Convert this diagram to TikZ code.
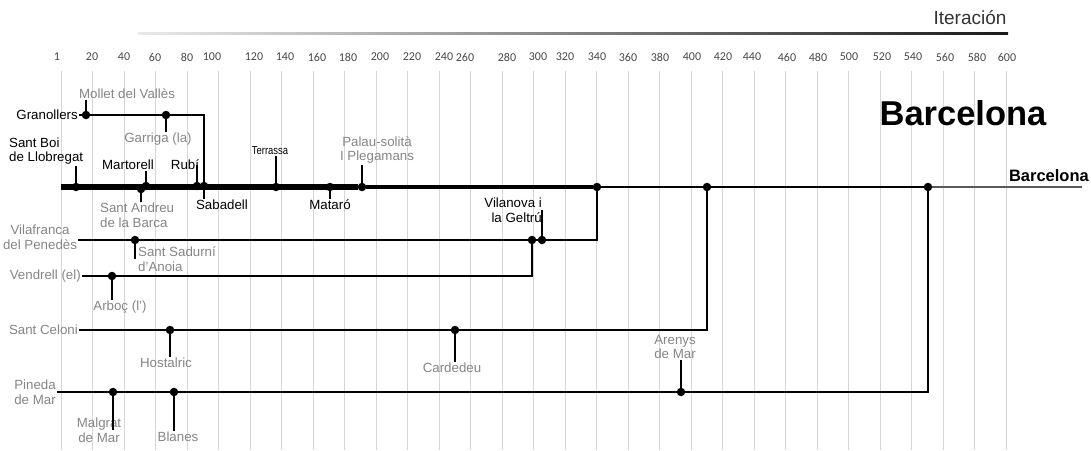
\documentclass[tikz,border=0pt]{standalone}
\usepackage{fontspec}
\setmainfont{Liberation Sans}
\newfontfamily\narrowfont[FakeStretch=0.82]{Liberation Sans}
\newfontfamily\axisfont{Carlito}
\usetikzlibrary{calc}

\begin{document}
\begin{tikzpicture}[x=1pt, y=-1pt,
        city/.style={font=\fontsize{13.3}{14.8}\selectfont, inner sep=1pt, align=center},
        minor/.style={city, text=black!48},
        stop/.style={circle, fill=black, inner sep=0pt, minimum size=8.5pt},
        branch/.style={line width=1.7pt},
        tick/.style={line width=1.5pt},
        gridline/.style={black!16, line width=0.8pt},
        axislabel/.style={font=\axisfont\fontsize{12}{14}\selectfont, text=black!72, inner sep=0pt}
    ]
        \useasboundingbox (0,0) rectangle (1091,450);

        \foreach \i in {0,...,30}
            \draw[gridline] ({61+31.5*\i},71) -- ({61+31.5*\i},450);
        \foreach \v/\x in {1/57, 20/92, 40/124, 60/155, 80/187, 100/212, 120/254, 140/285,
                           160/317, 180/348, 200/380, 220/412, 240/444, 260/465, 280/507,
                           300/538, 320/565, 340/597, 360/628, 380/660, 400/692, 420/723,
                           440/752, 460/787, 480/818, 500/849, 520/882, 540/913, 560/945,
                           580/977, 600/1007}
            \node[axislabel] (ax\v) at (\x,57) {\v};

        \shade[left color=black!8, right color=black!90] (138,32) rectangle (1008,34.2);
        \node[font=\fontsize{19}{22}\selectfont, text=black!80, inner sep=0pt] (iteracion) at (970,18) {Iteración};
        \node[font=\bfseries\fontsize{34.5}{40}\selectfont, inner sep=0pt] (title) at (963,113) {Barcelona};

        % trunk
        \coordinate (trunkstart) at (61,187);
        \coordinate (trunkend) at (1082,187);
        \node[stop] (santboi) at (76,187) {};
        \node[stop] (santandreu) at (141,189) {};
        \node[stop] (martorell) at (146,186) {};
        \node[stop] (rubi) at (197,186) {};
        \node[stop] (sabadell) at (204,186) {};
        \node[stop] (terrassa) at (276,187) {};
        \node[stop] (mataro) at (330,187) {};
        \node[stop] (palau) at (362,187) {};
        \node[stop] (jvilafranca) at (597,187) {};
        \node[stop] (jceloni) at (707,187) {};
        \node[stop] (jpineda) at (928,187) {};
        \node[font=\bfseries\fontsize{16.5}{19}\selectfont, inner sep=0pt, anchor=south east] (barcelona) at (1089,182) {Barcelona};

        \draw[line width=5.5pt] (trunkstart) -- (palau);
        \draw[line width=4pt] (palau) -- (jvilafranca);
        \draw[line width=2.8pt] (jvilafranca) -- (jceloni);
        \draw[line width=2pt] (jceloni) -- (jpineda);
        \draw[line width=1.1pt, black!65] (jpineda) -- (trunkend);

        \node[city, align=left, anchor=west] (santboi-t) at (8,151) {Sant Boi\\de Llobregat};
        \node[city] (martorell-t) at (128,165) {Martorell};
        \node[city] (rubi-t) at (185,165) {Rubí};
        \node[city, font=\narrowfont\fontsize{11.5}{13}\selectfont] (terrassa-t) at (270,151) {Terrassa};
        \node[minor] (palau-t) at (377,150) {Palau-solità\\I Plegamans};
        \node[city] (sabadell-t) at (222,205) {Sabadell};
        \node[city] (mataro-t) at (330,205) {Mataró};
        \node[minor, align=left, anchor=west] (santandreu-t) at (99,215) {Sant Andreu\\de la Barca};

        \draw[tick] (santboi) -- (santboi |- santboi-t.south);
        \draw[tick] (martorell) -- (martorell |- martorell-t.south);
        \draw[tick] (rubi) -- (rubi |- rubi-t);
        \draw[tick] (terrassa) -- (terrassa |- terrassa-t.south);
        \draw[tick] (palau) -- (palau |- palau-t.south);
        \draw[tick] (sabadell) -- (sabadell |- sabadell-t.north);
        \draw[tick] (mataro) -- (mataro |- mataro-t.north);
        \draw[tick] (santandreu) -- (santandreu |- santandreu-t.north);

        % Granollers
        \node[city, anchor=east] (granollers-t) at (79,115) {Granollers};
        \node[stop] (mollet) at (86,115) {};
        \node[stop] (garriga) at (166,115) {};
        \node[minor] (mollet-t) at (127,94) {Mollet del Vallès};
        \node[minor] (garriga-t) at (158,139) {Garriga (la)};
        \draw[branch] (granollers-t) -- (mollet) -- (garriga) -| (sabadell);
        \draw[tick] (mollet) -- (mollet |- mollet-t.south);
        \draw[tick] (garriga) -- (garriga |- garriga-t.north);

        % Vilafranca and Vendrell
        \node[minor] (vilafranca-t) at (40,237) {Vilafranca\\del Penedès};
        \node[stop] (sadurni) at (135,240) {};
        \node[stop] (vendrelljn) at (532,240) {};
        \node[stop] (vilanova) at (542,240) {};
        \node[minor, align=left, anchor=west] (sadurni-t) at (137,259) {Sant Sadurní\\d'Anoia};
        \node[city, align=right, anchor=east] (vilanova-t) at (543,210) {Vilanova i\\la Geltrú};
        \draw[branch] (vilafranca-t.east |- sadurni) -- (sadurni) -- (vendrelljn) -- (vilanova) -| (jvilafranca);
        \draw[tick] (sadurni) -- (sadurni |- sadurni-t);
        \draw[tick] (vilanova) -- (vilanova |- vilanova-t);

        \node[minor, anchor=east] (vendrell-t) at (82,276) {Vendrell (el)};
        \node[stop] (arboc) at (112,276) {};
        \node[minor] (arboc-t) at (120,307) {Arboç (l')};
        \draw[branch] (vendrell-t) -- (arboc) -| (vendrelljn);
        \draw[tick] (arboc) -- (arboc |- arboc-t.north);

        % Sant Celoni
        \node[minor, anchor=east] (celoni-t) at (79,330) {Sant Celoni};
        \node[stop] (hostalric) at (170,330) {};
        \node[stop] (cardedeu) at (455,330) {};
        \node[minor] (hostalric-t) at (166,363) {Hostalric};
        \node[minor] (cardedeu-t) at (452,368) {Cardedeu};
        \draw[branch] (celoni-t) -- (hostalric) -- (cardedeu) -| (jceloni);
        \draw[tick] (hostalric) -- (hostalric |- hostalric-t.north);
        \draw[tick] (cardedeu) -- (cardedeu |- cardedeu-t.north);

        % Pineda
        \node[minor] (pineda-t) at (35,392) {Pineda\\de Mar};
        \node[stop] (malgrat) at (113,392) {};
        \node[stop] (blanes) at (174,392) {};
        \node[stop] (arenys) at (681,392) {};
        \node[minor] (malgrat-t) at (99,430) {Malgrat\\de Mar};
        \node[minor] (blanes-t) at (178,437) {Blanes};
        \node[minor] (arenys-t) at (675,347) {Arenys\\de Mar};
        \draw[branch] (pineda-t.east |- malgrat) -- (malgrat) -- (blanes) -- (arenys) -| (jpineda);
        \draw[tick] (malgrat) -- (malgrat |- malgrat-t);
        \draw[tick] (blanes) -- (blanes |- blanes-t.north);
        \draw[tick] (arenys) -- (arenys |- arenys-t.south);
    \end{tikzpicture}
\end{document}
